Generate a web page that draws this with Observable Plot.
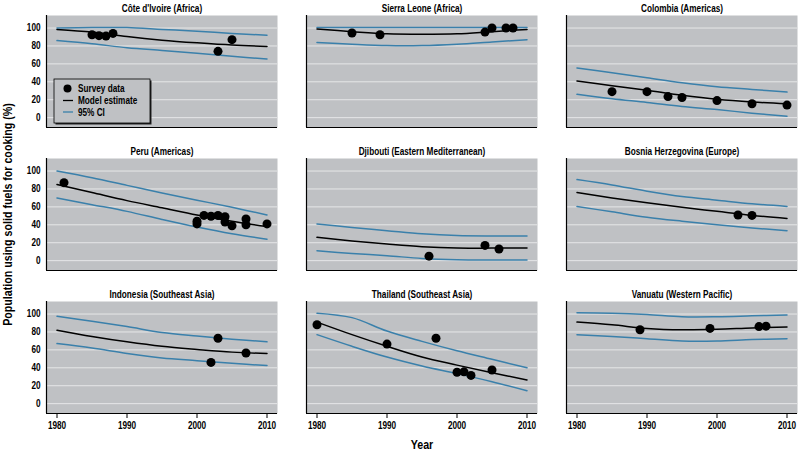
<!DOCTYPE html>
<html><head><meta charset="utf-8">
<script src="https://cdn.jsdelivr.net/npm/d3@7"></script>
<script src="https://cdn.jsdelivr.net/npm/@observablehq/plot@0.6"></script>
<style>
body{margin:0;background:#fff;}
#chart{position:relative;width:800px;height:451px;}
</style></head><body><div id="chart"></div>
<script>
const countries = ["Côte d'Ivoire (Africa)", "Sierra Leone (Africa)", "Colombia (Americas)",
  "Peru (Americas)", "Djibouti (Eastern Mediterranean)", "Bosnia Herzegovina (Europe)",
  "Indonesia (Southeast Asia)", "Thailand (Southeast Asia)", "Vanuatu (Western Pacific)"];

const modelYears = [1980, 1985, 1990, 1995, 2000, 2005, 2010];

const modelEstimate = [
  [98.5, 95.5, 90.5, 86.5, 83.5, 81, 79.5],
  [99, 96, 93.5, 93, 93.5, 96, 98.5],
  [41, 35.5, 30.5, 25, 20.5, 17.5, 15.5],
  [85, 76, 67, 59, 51, 44, 38],
  [26, 22, 18.5, 15.5, 14, 14, 14],
  [76, 70, 64.5, 59.5, 55, 50.5, 47],
  [82, 75, 69, 64, 60.5, 57.5, 56],
  [91, 77, 64, 52, 43, 34.5, 26.5],
  [91, 88, 84, 82.5, 83, 84.5, 85.5]
];
const upperCI = [
  [100, 100.5, 100.5, 98.5, 96.5, 94, 92],
  [100.5, 100.5, 100.5, 100.5, 100.5, 100.5, 100.5],
  [55.5, 50, 44.5, 39, 34.5, 31.5, 28.5],
  [100, 92.5, 84, 75.5, 67.5, 59.5, 51],
  [41, 37, 33.5, 30, 28, 27.5, 27.5],
  [90.5, 84.5, 77.5, 71.5, 67.5, 63.5, 60.5],
  [97.5, 92, 86, 79.5, 75.5, 72, 69],
  [101, 96, 81, 69.5, 59, 49.5, 40],
  [101.5, 101, 99.5, 97, 97, 98, 99]
];
const lowerCI = [
  [86, 82.5, 78, 75, 72, 68.5, 65.5],
  [84, 82, 80.5, 80.5, 82, 84.5, 87],
  [26, 21, 17, 12.5, 9, 5, 1.5],
  [70, 62.5, 55, 46, 37.5, 30, 24],
  [11, 8, 5.5, 2.5, 1, 0.7, 0.7],
  [60.5, 54.5, 48.5, 44, 40, 36.5, 33.5],
  [67, 62, 56, 51, 48, 45, 42.5],
  [77, 64, 52, 42, 33.5, 24.5, 14.5],
  [77, 75, 72.5, 70, 70, 71.5, 72.5]
];

const surveyYears = [
  [1985, 1986, 1987, 1988, 2003, 2005],
  [1985, 1989, 2004, 2005, 2007, 2008],
  [1985, 1990, 1993, 1995, 2000, 2005, 2010],
  [1981, 2000, 2000, 2001, 2002, 2003, 2004, 2004, 2005, 2007, 2007, 2010],
  [1996, 2004, 2006],
  [2003, 2005],
  [2002, 2003, 2007],
  [1980, 1990, 1997, 2000, 2001, 2002, 2005],
  [1989, 1999, 2006, 2007]
];
const surveyValues = [
  [92.5, 91.5, 91, 94, 74, 87],
  [94.5, 92.5, 95.5, 100, 100, 100],
  [29, 29, 23.5, 22.5, 19, 15.5, 14],
  [87, 44, 41, 50.5, 49.5, 50.5, 49, 43, 39, 46.5, 40, 41],
  [5, 17, 13],
  [51, 50.5],
  [46, 73, 56.5],
  [88, 66.5, 73, 35, 35.5, 31.5, 37.5],
  [82.5, 84, 86, 86.5]
];

const yTicks = [0, 20, 40, 60, 80, 100];
const xTicks = [1980, 1990, 2000, 2010];
const legendLabels = ["Survey data", "Model estimate", "95% CI"];
const yLabel = "Population using solid fuels for cooking (%)";
const xLabel = "Year";

const FONT = "'Liberation Sans', Arial, sans-serif";
const NARROW = 0.82;
const panelFill = "#bfc1c4";
const gridColor = "#e6e7e8";
const ciColor = "#3a80ab";

const panels = countries.map((name, i) => ({name, col: i % 3, row: Math.floor(i / 3)}));
const curveRows = [];
countries.forEach((name, i) => modelYears.forEach((yr, j) => {
  curveRows.push({country: name, col: i % 3, row: Math.floor(i / 3), year: yr,
    model: modelEstimate[i][j], upper: upperCI[i][j], lower: lowerCI[i][j]});
}));
const surveyRows = [];
countries.forEach((name, i) => surveyYears[i].forEach((yr, j) => {
  surveyRows.push({country: name, col: i % 3, row: Math.floor(i / 3), year: yr, value: surveyValues[i][j]});
}));

const xDomain = [1978.5, 2011.5];
const yDomain = [-11, 114];

const lineOpts = (y, stroke) => ({x: "year", y, fx: "col", fy: "row", z: "country",
  stroke, strokeWidth: 1.5, curve: "catmull-rom"});

const plot = Plot.plot({
  width: 800, height: 451,
  marginLeft: 45, marginRight: 2, marginTop: 15, marginBottom: 38,
  style: {fontFamily: FONT, fontSize: "10px", fontWeight: "bold", color: "black", background: "white", overflow: "visible"},
  fx: {axis: null, domain: [0, 1, 2], paddingInner: 0.111, paddingOuter: 0},
  fy: {axis: null, domain: [0, 1, 2], paddingInner: 0.217, paddingOuter: 0},
  x: {domain: xDomain},
  y: {domain: yDomain},
  marks: [
    Plot.frame({fill: panelFill, stroke: null}),
    Plot.gridY(yTicks, {stroke: gridColor, strokeOpacity: 1, strokeWidth: 1}),
    Plot.line(curveRows, lineOpts("upper", ciColor)),
    Plot.line(curveRows, lineOpts("lower", ciColor)),
    Plot.line(curveRows, lineOpts("model", "black")),
    Plot.dot(surveyRows, {x: "year", y: "value", fx: "col", fy: "row", r: 4.5, fill: "black", stroke: null}),
    Plot.text(panels, {fx: "col", fy: "row", text: "name", frameAnchor: "top", lineAnchor: "middle", dy: -7, fontSize: 10, fontWeight: "bold"}),
    Plot.ruleX([xDomain[0]], {stroke: "black", strokeWidth: 1.2}),
    Plot.ruleY([yDomain[0]], {stroke: "black", strokeWidth: 1.2}),
    Plot.axisY(yTicks, {tickSize: 0, tickPadding: 6, fontSize: 10, label: yLabel, labelAnchor: "center", labelArrow: "none", labelOffset: 44}),
    Plot.axisX(xTicks, {tickSize: 5, tickPadding: 3, fontSize: 10, tickFormat: d => String(d), label: xLabel, labelAnchor: "center", labelArrow: "none"})
  ]
});
document.getElementById("chart").appendChild(plot);

const svg = d3.select(plot);
svg.selectAll('g[aria-label="y-axis label"] text, g[aria-label="x-axis label"] text').attr("font-size", 13);

// legend inside first panel
const lg = svg.append("g").attr("font-family", FONT).attr("font-weight", "bold").attr("font-size", 10).attr("text-anchor", "start");
const bx = 54, by = 79, bw = 96, bh = 44;
lg.append("rect").attr("x", bx + 1.5).attr("y", by + 1.5).attr("width", bw).attr("height", bh).attr("fill", "#222");
lg.append("rect").attr("x", bx).attr("y", by).attr("width", bw).attr("height", bh).attr("fill", panelFill).attr("stroke", "black").attr("stroke-width", 0.8);
const rowY = [by + 9.5, by + 21.5, by + 33];
lg.append("circle").attr("cx", bx + 13.5).attr("cy", rowY[0]).attr("r", 4).attr("fill", "black");
lg.append("line").attr("x1", bx + 9).attr("x2", bx + 19).attr("y1", rowY[1]).attr("y2", rowY[1]).attr("stroke", "black").attr("stroke-width", 1.3);
lg.append("line").attr("x1", bx + 9).attr("x2", bx + 19).attr("y1", rowY[2]).attr("y2", rowY[2]).attr("stroke", ciColor).attr("stroke-width", 1.3);
legendLabels.forEach((t, i) => {
  lg.append("text").attr("x", bx + 24).attr("y", rowY[i]).attr("dy", "0.35em").text(t);
});

// condensed look: compress glyphs horizontally
svg.selectAll("text").each(function () {
  const len = this.getComputedTextLength();
  if (len > 0) {
    this.setAttribute("textLength", (len * NARROW).toFixed(2));
    this.setAttribute("lengthAdjust", "spacingAndGlyphs");
  }
});
</script></body></html>
